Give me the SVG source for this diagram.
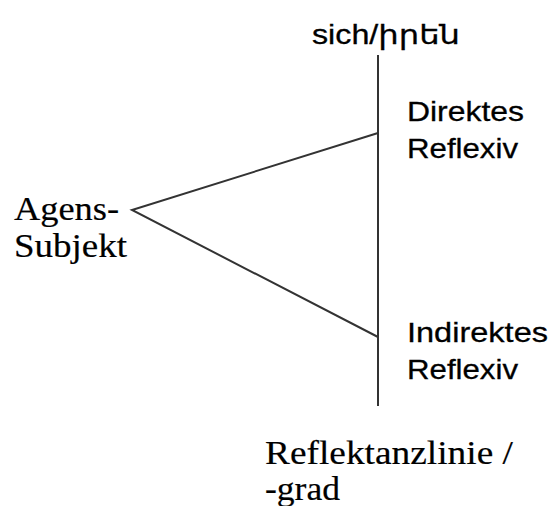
<svg xmlns="http://www.w3.org/2000/svg" width="551" height="506" viewBox="0 0 551 506">
<style>
.sans{font-family:"Liberation Sans","DejaVu Sans",Arial,sans-serif;font-size:28px;fill:#000;stroke:#000;stroke-width:0.3}
.serif{font-family:"Liberation Serif","Times New Roman",serif;font-size:34px;fill:#000;stroke:#000;stroke-width:0.2}
.ln{stroke:#333;stroke-width:2;fill:none;stroke-linecap:butt}
</style>
<rect width="551" height="506" fill="#fff"/>
<g id="connectors">
<line class="ln" x1="378" y1="55" x2="378" y2="406"/>
<polyline class="ln" points="378,133 132,210 378,337"/>
</g>
<g id="top-label"><text class="sans" x="312" y="44" style="font-size:27px" textLength="148" lengthAdjust="spacingAndGlyphs">sich/իրեն</text></g>
<g id="direktes"><text class="sans" x="407" y="121" textLength="117" lengthAdjust="spacingAndGlyphs">Direktes</text><text class="sans" x="407" y="158" textLength="111" lengthAdjust="spacingAndGlyphs">Reflexiv</text></g>
<g id="indirektes"><text class="sans" x="407" y="342" textLength="141" lengthAdjust="spacingAndGlyphs">Indirektes</text><text class="sans" x="407" y="379" textLength="111" lengthAdjust="spacingAndGlyphs">Reflexiv</text></g>
<g id="agens"><text class="serif" x="14" y="220" textLength="105" lengthAdjust="spacingAndGlyphs">Agens-</text><text class="serif" x="14" y="257" textLength="113" lengthAdjust="spacingAndGlyphs">Subjekt</text></g>
<g id="reflektanz"><text class="serif" x="265" y="464" textLength="248" lengthAdjust="spacingAndGlyphs">Reflektanzlinie /</text><text class="serif" x="265" y="500" textLength="75" lengthAdjust="spacingAndGlyphs">-grad</text></g>
</svg>
